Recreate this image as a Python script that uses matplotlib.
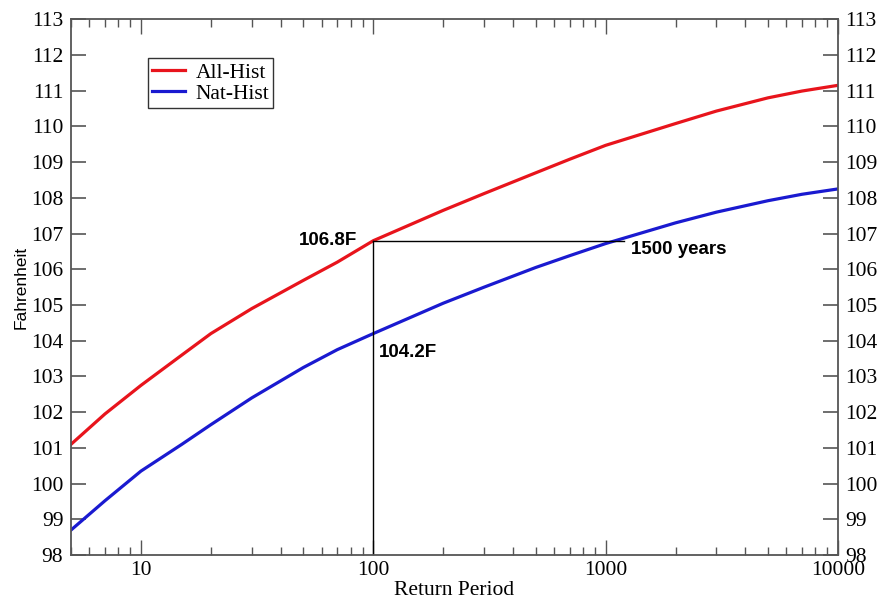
import numpy as np
import matplotlib.pyplot as plt
from matplotlib.ticker import FixedLocator, LogLocator, NullFormatter

# return period (years) and temperature (F)
period = [5, 7, 10, 15, 20, 30, 50, 70, 100, 200, 300, 500, 700, 1000, 2000, 3000, 5000, 7000, 10000]
all_hist = [101.1, 101.95, 102.75, 103.6, 104.2, 104.9, 105.69, 106.2, 106.8, 107.65, 108.12,
            108.7, 109.08, 109.47, 110.08, 110.43, 110.8, 110.99, 111.15]
nat_hist = [98.7, 99.52, 100.35, 101.1, 101.65, 102.4, 103.25, 103.75, 104.2, 105.05, 105.5,
            106.05, 106.38, 106.72, 107.3, 107.6, 107.92, 108.1, 108.25]

mark_period = 100
mark_all = 106.8
mark_nat = 104.2
cross_period = 1200

plt.rcParams['font.family'] = ['Liberation Serif', 'DejaVu Serif']

fig = plt.figure(figsize=(8.82, 6.02), dpi=100)
ax = fig.add_axes([0.0805, 0.078, 0.8695, 0.89])

ax.plot(period, all_hist, color='#e8141c', linewidth=2.3, label='All-Hist')
ax.plot(period, nat_hist, color='#1a1ad0', linewidth=2.3, label='Nat-Hist')

# guide lines
ax.plot([mark_period, mark_period], [98, mark_all], color='black', linewidth=1.0)
ax.plot([mark_period, cross_period], [mark_all, mark_all], color='black', linewidth=1.0)

lab = dict(family='Liberation Sans', weight='bold', fontsize=13.5,
           textcoords='offset pixels', va='center')
ax.annotate('106.8F', xy=(mark_period, mark_all), xytext=(-16, 0), ha='right', **lab)
ax.annotate('104.2F', xy=(mark_period, mark_nat), xytext=(6, -19), ha='left', **lab)
ax.annotate('1500 years', xy=(cross_period, mark_all), xytext=(7, -9), ha='left', **lab)

ax.set_xscale('log')
ax.set_xlim(5, 10000)
ax.set_ylim(98, 113)
ax.set_xticks([10, 100, 1000, 10000])
ax.set_xticklabels(['10', '100', '1000', '10000'])
ax.xaxis.set_minor_locator(LogLocator(base=10, subs=np.arange(2, 10)))
ax.xaxis.set_minor_formatter(NullFormatter())
ax.yaxis.set_major_locator(FixedLocator(range(98, 114)))

ax.tick_params(axis='x', which='major', direction='in', length=11, width=1,
               top=True, labelsize=15.5, colors='#555555', labelcolor='black', pad=4)
ax.tick_params(axis='x', which='minor', direction='in', length=5.5, width=1,
               top=True, colors='#555555')
ax.tick_params(axis='y', which='major', direction='in', length=11, width=1.2,
               right=True, labelright=True, labelsize=15.5, colors='#555555',
               labelcolor='black', pad=5.5)

for s in ax.spines.values():
    s.set_color('#555555')
    s.set_linewidth(1.3)

ax.set_xlabel('Return Period', fontsize=15.5, labelpad=1)
ax.set_ylabel('Fahrenheit', family='Liberation Sans', fontsize=12.5, labelpad=2)

leg = ax.legend(loc='upper left', bbox_to_anchor=(0.1004, 0.927), borderaxespad=0,
                fontsize=15.5, fancybox=False, framealpha=1, edgecolor='#333333',
                handlelength=1.5, borderpad=0.2, labelspacing=0.05, handletextpad=0.5)
leg.get_frame().set_linewidth(1.0)

fig.savefig('out.png', dpi=100)
